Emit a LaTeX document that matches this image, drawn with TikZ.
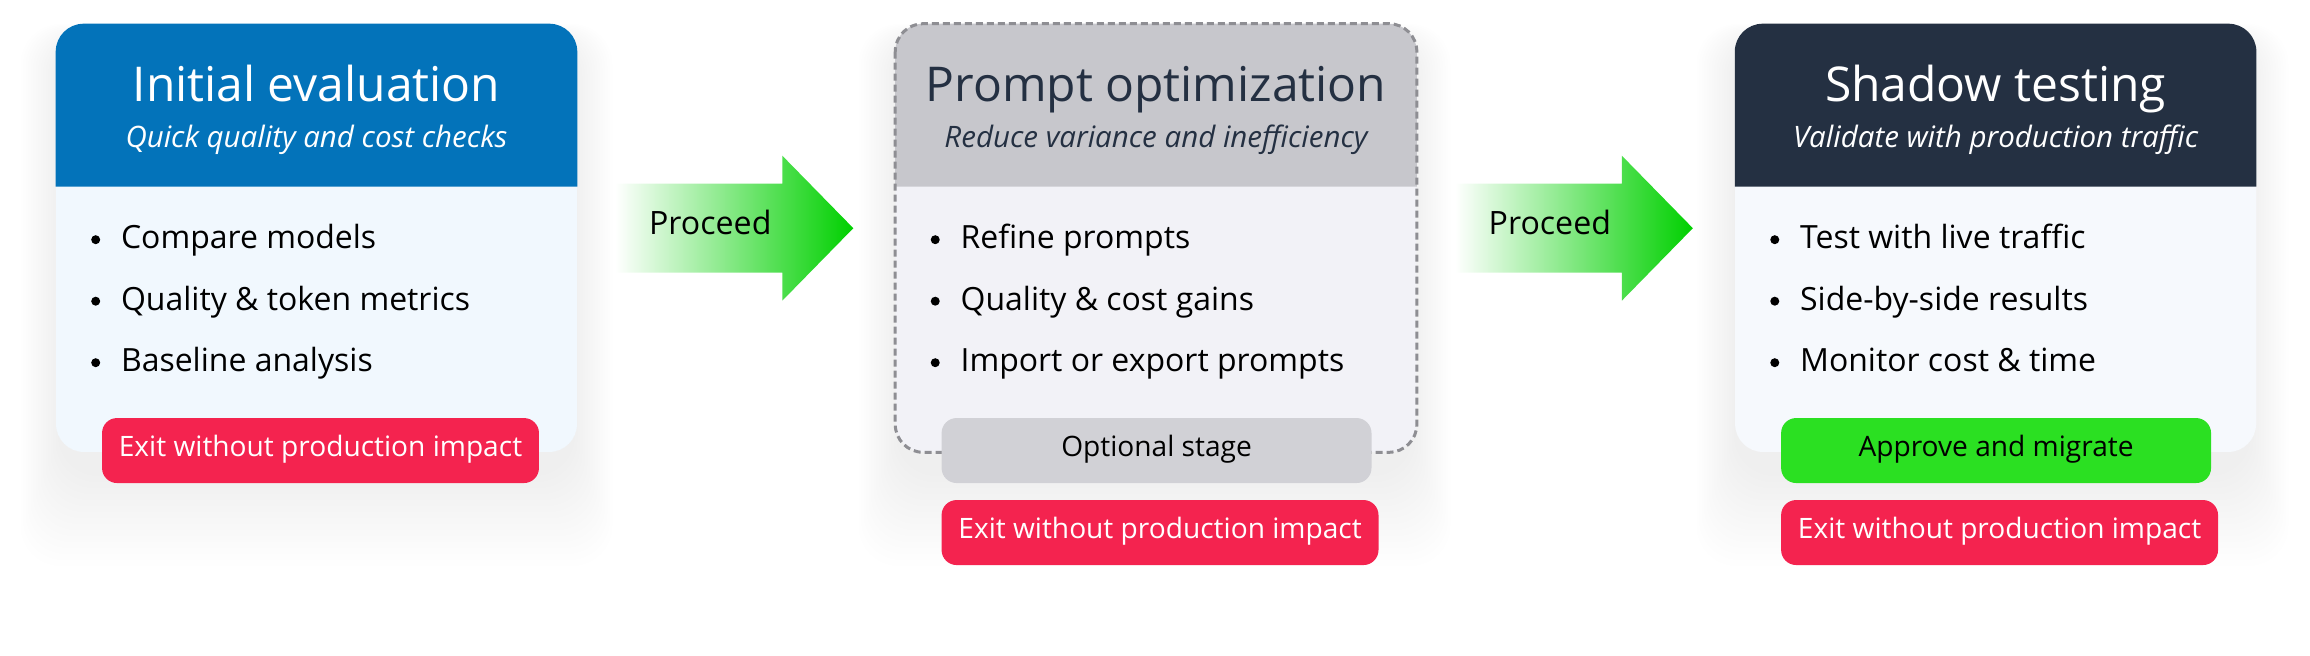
\documentclass[tikz,border=0pt]{standalone}
\usepackage{fontspec}
\setmainfont{Open Sans}
\definecolor{evalblue}{HTML}{0373BA}
\definecolor{evalbody}{HTML}{F1F8FE}
\definecolor{optgray}{HTML}{C7C7CC}
\definecolor{optbody}{HTML}{F2F2F7}
\definecolor{optline}{HTML}{8E8E93}
\definecolor{optbtn}{HTML}{D1D1D6}
\definecolor{optink}{HTML}{243042}
\definecolor{shadownavy}{HTML}{243042}
\definecolor{shadowbody}{HTML}{F6F9FD}
\definecolor{exitred}{HTML}{F4234F}
\definecolor{gogreen}{HTML}{2BE022}
\definecolor{arrowgreen}{HTML}{00D000}
\usetikzlibrary{positioning,calc}

\begin{document}
\begin{tikzpicture}[x=0.02cm,y=-0.02cm,
  card/.style={minimum width=10.42cm,minimum height=8.56cm,rounded corners=0.56cm,inner sep=0pt},
  cardtitle/.style={anchor=base,inner sep=0pt,font=\fontsize{27.3}{32}\selectfont},
  cardsub/.style={anchor=base,inner sep=0pt,font=\fontsize{16.8}{20}\selectfont\itshape},
  item/.style={anchor=base west,inner sep=0pt,font=\fontsize{18.2}{22}\selectfont},
  btn/.style={anchor=north west,minimum height=1.3cm,rounded corners=0.3cm,inner sep=0pt,
    text height=0.72em,text depth=0pt,font=\fontsize{16}{19}\selectfont},
  proceed/.style={shade,left color=white,right color=arrowgreen}]
\useasboundingbox (0,0) rectangle (2310,656);

% soft shadows under the cards
\foreach \cx in {316.5,1154.5,1992.5}
  \foreach \k in {1,...,16}
    \fill[black,opacity=0.0035,rounded corners=0.8cm]
      (\cx-256-2.5*\k,40-\k) rectangle (\cx+256+2.5*\k,470+6*\k);

% Initial evaluation
\node[card,fill=evalbody] (init) at (316.5,238) {};
\fill[evalblue] ($(init.north west)+(0,163)$) [rounded corners=0.56cm] -- (init.north west)
  -- (init.north east) [sharp corners] -- ($(init.north east)+(0,163)$) -- cycle;
\node[cardtitle,text=white] (init-t) at ($(init.north)+(0,78)$) {Initial evaluation};
\node[cardsub,text=white] (init-s) at ($(init.north)+(0,124)$) {Quick quality and cost checks};
\foreach \t [count=\i] in {Compare models,Quality \& token metrics,Baseline analysis}{
  \fill ($(init.north west)+(40,154.5+61.5*\i)$) circle (4.5);
  \node[item] (init-i\i) at ($(init.north west)+(65,163.5+61.5*\i)$) {\t};
}
\node[btn,fill=exitred,text=white,minimum width=8.74cm] (init-exit)
  at ($(init.north west)+(46,394)$) {Exit without production impact};

% Prompt optimization (optional)
\node[card,fill=optbody,right=6.36cm of init] (optim) {};
\fill[optgray] ($(optim.north west)+(0,163)$) [rounded corners=0.56cm] -- (optim.north west)
  -- (optim.north east) [sharp corners] -- ($(optim.north east)+(0,163)$) -- cycle;
\draw[optline,line width=0.06cm,dash pattern=on 0.14cm off 0.08cm,rounded corners=0.56cm]
  (optim.north west) rectangle (optim.south east);
\node[cardtitle,text=optink] (optim-t) at ($(optim.north)+(0,78)$) {Prompt optimization};
\node[cardsub,text=optink] (optim-s) at ($(optim.north)+(0,124)$) {Reduce variance and inefficiency};
\foreach \t [count=\i] in {Refine prompts,Quality \& cost gains,Import or export prompts}{
  \fill ($(optim.north west)+(40,154.5+61.5*\i)$) circle (4.5);
  \node[item] (optim-i\i) at ($(optim.north west)+(65,163.5+61.5*\i)$) {\t};
}
\node[btn,fill=optbtn,minimum width=8.6cm] (optim-opt)
  at ($(optim.north west)+(46,394)$) {Optional stage};
\node[btn,fill=exitred,text=white,minimum width=8.74cm] (optim-exit)
  at ($(optim.north west)+(46,476)$) {Exit without production impact};

% Shadow testing
\node[card,fill=shadowbody,right=6.36cm of optim] (shadow) {};
\fill[shadownavy] ($(shadow.north west)+(0,163)$) [rounded corners=0.56cm] -- (shadow.north west)
  -- (shadow.north east) [sharp corners] -- ($(shadow.north east)+(0,163)$) -- cycle;
\node[cardtitle,text=white] (shadow-t) at ($(shadow.north)+(0,78)$) {Shadow testing};
\node[cardsub,text=white] (shadow-s) at ($(shadow.north)+(0,124)$) {Validate with production traffic};
\foreach \t [count=\i] in {Test with live traffic,Side-by-side results,Monitor cost \& time}{
  \fill ($(shadow.north west)+(40,154.5+61.5*\i)$) circle (4.5);
  \node[item] (shadow-i\i) at ($(shadow.north west)+(65,163.5+61.5*\i)$) {\t};
}
\node[btn,fill=gogreen,minimum width=8.6cm] (shadow-go)
  at ($(shadow.north west)+(46,394)$) {Approve and migrate};
\node[btn,fill=exitred,text=white,minimum width=8.74cm] (shadow-exit)
  at ($(shadow.north west)+(46,476)$) {Exit without production impact};

% Proceed arrows
\foreach \a/\b in {init/optim,optim/shadow}{
  \coordinate (\a-p) at ($(\a.north east)+(38,204.5)$);
  \path[proceed] (\a-p) -- ++(0,-44.5) -- ++(167,0) -- ++(0,-28) -- ++(71,72.5)
    -- ++(-71,72.5) -- ++(0,-28) -- ++(-167,0) -- cycle;
  \node[text height=0.72em,text depth=0pt,font=\fontsize{18.3}{21}\selectfont] (\a-go)
    at ($(\a-p)+(95,0)$) {Proceed};
}
\end{tikzpicture}
\end{document}
